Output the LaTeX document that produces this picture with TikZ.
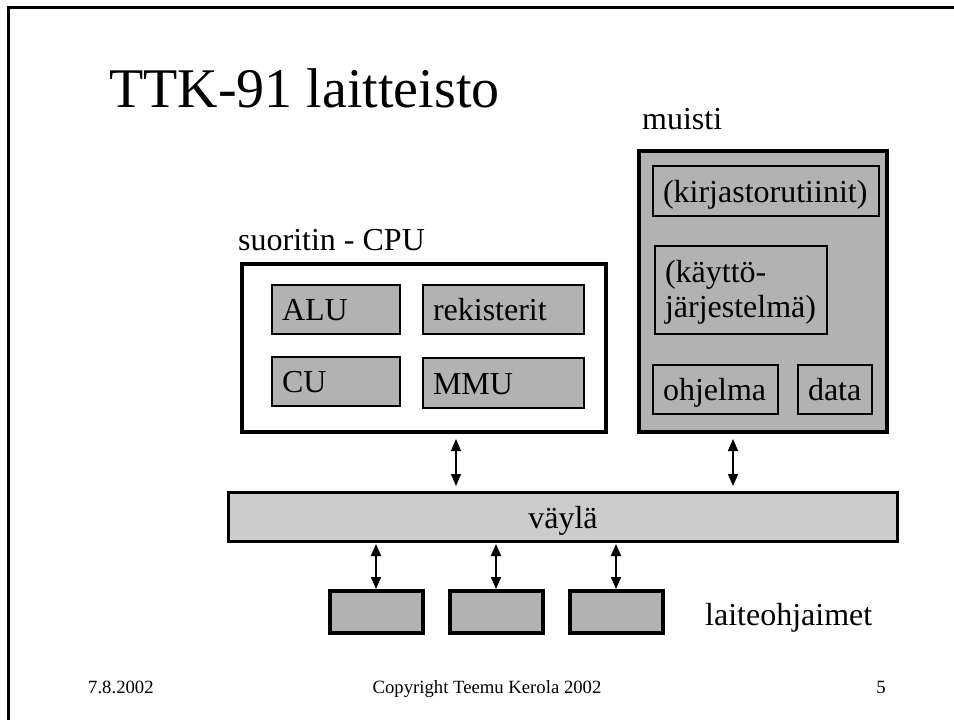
\documentclass[tikz,border=0pt]{standalone}
\usepackage{fontspec}
\setmainfont{Liberation Serif}
\usetikzlibrary{arrows.meta}
\definecolor{partgray}{gray}{0.7}
\definecolor{busgray}{gray}{0.8}
\begin{document}
\begin{tikzpicture}[x=1pt,y=-1pt]
        \tikzstyle{label_style} = [inner sep=0pt,anchor=base west,font=\fontsize{32}{35}\selectfont]
        \tikzstyle{foot_style} = [inner sep=0pt,anchor=base,font=\fontsize{18.7}{22}\selectfont]
        \tikzstyle{unit_style} = [draw=black,line width=4pt,inner sep=0pt]
        \tikzstyle{part_style} = [draw=black,line width=1.2pt,fill=partgray,inner xsep=10pt,inner ysep=0pt,align=left,text height=22pt,text depth=0pt,font=\fontsize{32}{35}\selectfont]
        \tikzstyle{bus_style} = [draw=black,line width=3pt,fill=busgray,inner sep=0pt,text height=22pt,text depth=0pt,font=\fontsize{32}{35}\selectfont]
        \tikzstyle{edge_style} = [draw=black,line width=1.5pt,{Triangle[length=12pt,width=10pt]}-{Triangle[length=12pt,width=10pt]}]
        \useasboundingbox (0,0) rectangle (954,720);
        \draw[line width=3pt] (8.5,720) -- (8.5,7.5) -- (954,7.5);
        \node[label_style,font=\fontsize{56}{60}\selectfont] (title) at (109,107) {TTK-91 laitteisto};
        \node[label_style] (memlabel) at (642,129) {muisti};
        \node[label_style] (cpulabel) at (238,250) {suoritin - CPU};
        % suoritin
        \node[unit_style,fill=white,minimum width=364pt,minimum height=168pt] (cpu) at (424,348) {};
        \node[part_style,text width=108pt,minimum height=49pt] (alu) at (336,309.5) {ALU};
        \node[part_style,text width=141pt,minimum height=49pt] (reg) at (503.5,309.5) {rekisterit};
        \node[part_style,text width=108pt,minimum height=49pt] (cu) at (336,381.5) {CU};
        \node[part_style,text width=141pt,minimum height=50pt] (mmu) at (503.5,383) {MMU};
        % muisti
        \node[unit_style,fill=partgray,minimum width=248pt,minimum height=281pt] (mem) at (763,291.5) {};
        \node[part_style,text width=206pt,minimum height=50pt] (lib) at (766,191) {(kirjastorutiinit)};
        \node[part_style,text width=152pt,minimum height=88pt,text depth=38pt] (os) at (741,290) {(käyttö-\\järjestelmä)};
        \node[part_style,text width=105pt,minimum height=49pt] (prog) at (715.5,389.5) {ohjelma};
        \node[part_style,text width=54pt,minimum height=49pt] (data) at (835,389.5) {data};
        % väylä ja laitteet
        \node[bus_style,minimum width=669pt,minimum height=49pt] (bus) at (563,517) {väylä};
        \node[unit_style,fill=partgray,minimum width=93pt,minimum height=42pt] (dev1) at (376,612) {};
        \node[unit_style,fill=partgray,minimum width=93pt,minimum height=42pt] (dev2) at (496,612) {};
        \node[unit_style,fill=partgray,minimum width=93pt,minimum height=42pt] (dev3) at (616,612) {};
        \node[label_style] (devlabel) at (705,625) {laiteohjaimet};
        \coordinate (cpuport) at (456,0);
        \coordinate (memport) at (733,0);
        \draw[edge_style,shorten <=5pt,shorten >=5pt] (cpu.south -| cpuport) -- (bus.north -| cpuport);
        \draw[edge_style,shorten <=5pt,shorten >=5pt] (mem.south -| memport) -- (bus.north -| memport);
        \draw[edge_style,shorten <=1pt] (bus.south -| dev1.north) -- (dev1.north);
        \draw[edge_style,shorten <=1pt] (bus.south -| dev2.north) -- (dev2.north);
        \draw[edge_style,shorten <=1pt] (bus.south -| dev3.north) -- (dev3.north);
        % alatunniste
        \node[foot_style,anchor=base west] (date) at (88,693) {7.8.2002};
        \node[foot_style] (copy) at (487,693) {Copyright Teemu Kerola 2002};
        \node[foot_style] (page) at (881,693) {5};
\end{tikzpicture}
\end{document}
